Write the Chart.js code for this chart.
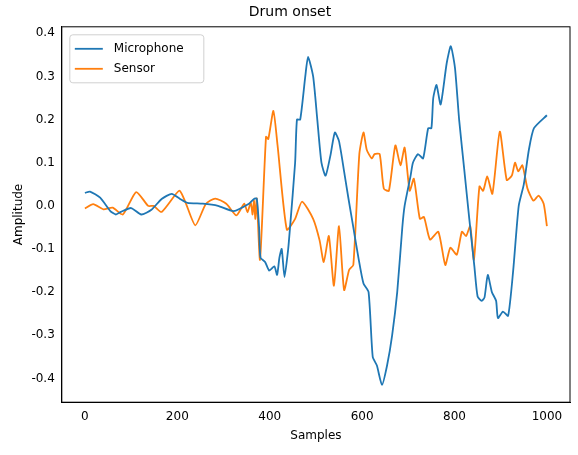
<!DOCTYPE html>
<html><head><meta charset="utf-8">
<script src="https://cdn.jsdelivr.net/npm/chart.js@4"></script>
<style>body{margin:0;background:#fff}#wrap{width:578px;height:455px}</style>
</head><body><div id="wrap"><canvas id="c"></canvas></div>
<script>
const micX = [0,11,33,55,67,78,100,122,144,166,188,206,222,255,288,322,355,366,372,377,380,390,399,410,416,421,426,432,440,444,455,459,466,477,483,494,503,512,521,532,541,550,561,570,581,592,603,614,623,632,643,654,665,676,687,692,705,710,721,732,743,750,754,761,770,783,792,801,810,821,832,843,850,859,865,872,881,890,894,905,916,927,939,950,961,972,1000];
const micY = [0.03,0.033,0.019,-0.012,-0.02,-0.014,-0.005,-0.02,-0.009,0.016,0.028,0.016,0.007,0.005,0,-0.012,0.005,0.016,0.017,-0.05,-0.12,-0.13,-0.15,-0.14,-0.16,-0.12,-0.1,-0.165,-0.1,-0.05,0.1,0.2,0.2,0.3,0.345,0.3,0.2,0.1,0.07,0.12,0.17,0.15,0.08,0.02,-0.05,-0.12,-0.18,-0.2,-0.35,-0.37,-0.415,-0.37,-0.3,-0.2,-0.05,0,0.07,0.1,0.12,0.11,0.18,0.18,0.25,0.28,0.235,0.33,0.37,0.32,0.2,0.085,-0.03,-0.14,-0.21,-0.22,-0.212,-0.16,-0.2,-0.22,-0.26,-0.245,-0.255,-0.15,0,0.05,0.13,0.18,0.21];
const senX = [0,18,40,60,82,111,137,149,166,204,217,239,262,282,306,328,345,352,359,363,366,369,372,379,392,397,408,417,437,455,470,494,508,517,528,539,550,561,572,581,594,603,610,621,627,638,647,658,672,683,692,703,712,725,734,747,765,780,791,805,816,825,834,842,854,862,871,882,898,913,924,931,938,947,958,971,982,993,1000];
const senY = [-0.006,0.004,-0.008,-0.004,-0.02,0.032,0,0,-0.014,0.035,0.01,-0.045,0.005,0.017,0.005,-0.022,0.005,-0.015,0.008,-0.02,0.012,-0.03,0.017,-0.125,0.16,0.155,0.22,0.14,-0.055,-0.03,0.01,-0.03,-0.08,-0.13,-0.07,-0.185,-0.047,-0.195,-0.148,-0.137,0.12,0.17,0.13,0.11,0.12,0.12,0.04,0.035,0.14,0.094,0.135,0.035,0.063,-0.03,-0.026,-0.078,-0.06,-0.137,-0.097,-0.113,-0.06,-0.07,-0.047,-0.125,0.045,0.035,0.068,0.028,0.172,0.06,0.07,0.1,0.08,0.094,0.04,0.012,0.024,0.005,-0.047];
const yTicks = [-0.4,-0.3,-0.2,-0.1,0,0.1,0.2,0.3,0.4];
const xTicks = [0,200,400,600,800,1000];

const pts = (xs, ys) => xs.map((x, i) => ({x: x, y: ys[i]}));
const font = {family: 'DejaVu Sans', size: 12};

// frame around the plot + legend box inside it (upper left)
const boxLegend = {
  id: 'boxLegend',
  afterDraw(chart) {
    const {ctx, chartArea: a} = chart;
    ctx.save();
    ctx.strokeStyle = '#000';
    ctx.lineWidth = 1;
    ctx.strokeRect(a.left, a.top, a.right - a.left, a.bottom - a.top);
    const x = a.left + 8, y = a.top + 8;
    ctx.fillStyle = 'rgba(255,255,255,0.8)';
    ctx.strokeStyle = '#d0d0d0';
    ctx.beginPath();
    ctx.roundRect(x, y, 134, 48, 3);
    ctx.fill(); ctx.stroke();
    ctx.font = '12px DejaVu Sans';
    ctx.textBaseline = 'middle';
    chart.data.datasets.forEach((ds, i) => {
      const ly = y + 14 + i * 20;
      ctx.strokeStyle = ds.borderColor;
      ctx.lineWidth = 1.8;
      ctx.beginPath(); ctx.moveTo(x + 5, ly); ctx.lineTo(x + 33, ly); ctx.stroke();
      ctx.fillStyle = '#000';
      ctx.fillText(ds.label, x + 44, ly);
    });
    ctx.restore();
  }
};

new Chart(document.getElementById('c'), {
  type: 'scatter',
  data: {
    datasets: [
      {label: 'Microphone', data: pts(micX, micY), borderColor: '#1f77b4', showLine: true, pointRadius: 0, borderWidth: 1.8, tension: 0.2},
      {label: 'Sensor', data: pts(senX, senY), borderColor: '#ff7f0e', showLine: true, pointRadius: 0, borderWidth: 1.8, tension: 0.2}
    ]
  },
  options: {
    responsive: true,
    maintainAspectRatio: false,
    animation: false,
    layout: {padding: {top: 0, right: 8, left: 10, bottom: 10}},
    plugins: {
      legend: {display: false},
      tooltip: {enabled: false},
      title: {display: true, text: 'Drum onset', color: '#000', font: {family: 'DejaVu Sans', size: 14, weight: 'normal'}, padding: {top: 4, bottom: 6}}
    },
    scales: {
      x: {
        type: 'linear', min: -50, max: 1050,
        title: {display: true, text: 'Samples', color: '#000', font: font, padding: 2},
        grid: {display: false, tickLength: 4},
        border: {color: '#000'},
        afterBuildTicks: s => { s.ticks = xTicks.map(v => ({value: v})); },
        ticks: {color: '#000', font: font, maxRotation: 0, callback: v => String(v)}
      },
      y: {
        type: 'linear', min: -0.455, max: 0.415,
        title: {display: true, text: 'Amplitude', color: '#000', font: font, padding: 2},
        grid: {display: false, tickLength: 4},
        border: {color: '#000'},
        afterBuildTicks: s => { s.ticks = yTicks.map(v => ({value: v})); },
        ticks: {color: '#000', font: font, callback: v => v.toFixed(1)}
      }
    }
  },
  plugins: [boxLegend]
});
</script></body></html>
